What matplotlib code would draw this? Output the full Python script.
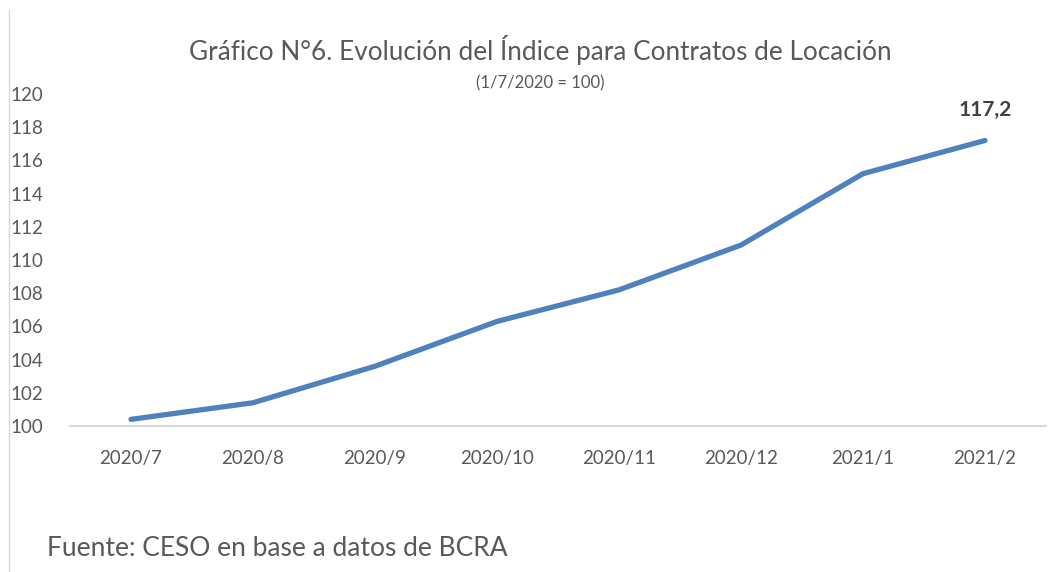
import matplotlib
matplotlib.use("Agg")
import matplotlib.pyplot as plt
from matplotlib.lines import Line2D

plt.rcParams['font.family'] = ['Lato', 'DejaVu Sans']

categories = ["2020/7", "2020/8", "2020/9", "2020/10", "2020/11", "2020/12", "2021/1", "2021/2"]
values = [100.4, 101.4, 103.6, 106.3, 108.2, 110.9, 115.2, 117.2]
yticks = [100, 102, 104, 106, 108, 110, 112, 114, 116, 118, 120]

text_color = "#595959"

fig = plt.figure(figsize=(10.55, 5.72), dpi=100)
ax = fig.add_axes([70/1055, 1-426/572, (1046-70)/1055, (426-94)/572])

x = list(range(len(categories)))
ax.plot(x, values, color="#4F81BD", lw=3.8, solid_capstyle="round", solid_joinstyle="round")

ax.set_xlim(-0.5, len(categories) - 0.5)
ax.set_ylim(100, 120)
ax.set_yticks(yticks)
ax.set_yticklabels([str(v) for v in yticks])
ax.set_xticks(x)
ax.set_xticklabels(categories)

for s in ["top", "right", "left"]:
    ax.spines[s].set_visible(False)
ax.spines["bottom"].set_color("#d9d9d9")
ax.spines["bottom"].set_linewidth(1.5)
ax.tick_params(axis="both", length=0, colors=text_color, labelsize=13.5)
ax.tick_params(axis="y", pad=19)
ax.tick_params(axis="x", pad=17)

ax.annotate(f"{values[-1]:.1f}".replace(".", ","), (x[-1], values[-1]),
            xytext=(0, 15), textcoords="offset points", ha="center", va="bottom",
            fontsize=15, fontweight="bold", color="#404040")

fig.text(540/1055, 1-50/572, "Gráfico N°6. Evolución del Índice para Contratos de Locación",
         ha="center", va="center", fontsize=18.8, color=text_color)
fig.text(540/1055, 1-83/572, "(1/7/2020 = 100)", ha="center", va="center",
         fontsize=12, color=text_color)
fig.text(47/1055, 1-548/572, "Fuente: CESO en base a datos de BCRA", ha="left", va="center",
         fontsize=19, color=text_color)

fig.add_artist(Line2D([9/1055, 9/1055], [0, 1-10/572], transform=fig.transFigure,
                      color="#d9d9d9", lw=1))

fig.savefig("out.png", dpi=100)
